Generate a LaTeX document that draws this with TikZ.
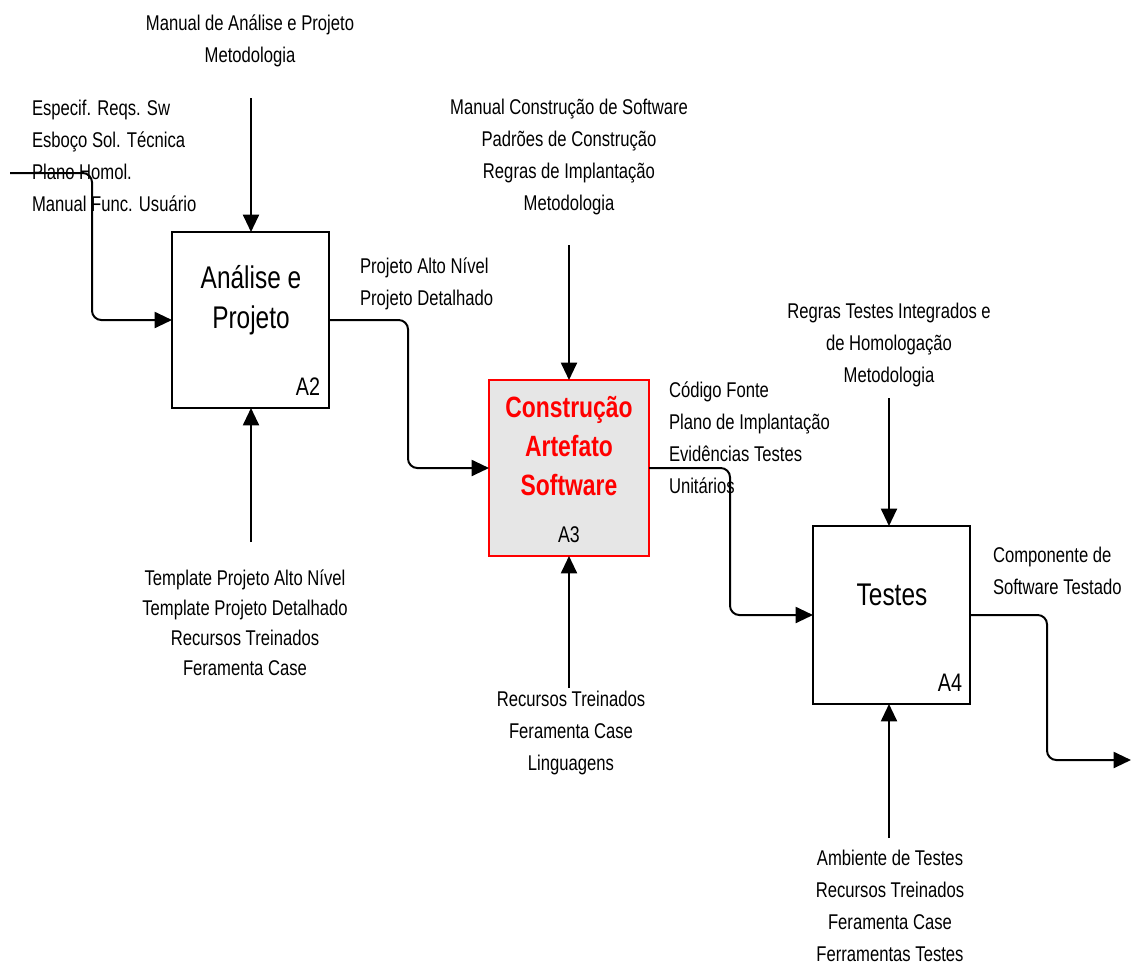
\documentclass[tikz,border=0pt]{standalone}
\usepackage{fontspec}
\setmainfont{Liberation Sans}[FakeStretch=0.78]
\usetikzlibrary{arrows.meta}
\definecolor{boxgray}{HTML}{E6E6E6}
\definecolor{boxred}{HTML}{FF0000}
\begin{document}
\begin{tikzpicture}[x=0.75pt,y=-0.75pt,
  every node/.style={inner sep=0pt, outer sep=0pt},
  lbl/.style={font=\fontsize{16}{24}\selectfont, align=center},
  lbll/.style={font=\fontsize{16}{24}\selectfont, align=left, anchor=west},
  big/.style={font=\fontsize{23.5}{30}\selectfont, align=center},
  ref/.style={font=\fontsize{19}{22}\selectfont},
  actbox/.style={draw, line width=1.5pt, anchor=north west},
  redbox/.style={draw=boxred, fill=boxgray, line width=1.5pt, anchor=north west},
  flow/.style={line width=1.5pt, rounded corners=7pt, -{Triangle[length=13pt,width=12pt]}}
]
\useasboundingbox (0,0) rectangle (1131,967);

% boxes
\node[actbox, minimum width=117.75pt, minimum height=132pt] (a2) at (172,232) {};
\node[redbox, minimum width=120pt, minimum height=132pt] (a3) at (489,380) {};
\node[actbox, minimum width=117.75pt, minimum height=133.5pt] (a4) at (813,526) {};

% box texts
\node[big] (t2) at (251,300) {Análise e\\Projeto};
\node[ref, anchor=east] (r2) at (320,387) {A2};
\node[font=\bfseries\fontsize{22}{29}\selectfont, text=boxred, align=center] (t3) at (569,446) {Construção\\Artefato\\Software};
\node[font=\fontsize{17}{20}\selectfont] (r3) at (569,535) {A3};
\node[big] (t4) at (892,595) {Testes};
\node[ref, anchor=east] (r4) at (962,683) {A4};

% labels
\node[lbl] (l1) at (250,41) {Manual de Análise e Projeto\\Metodologia};
\node[lbll] (l2) at (32,156) {Especif. Reqs. Sw\\Esboço Sol. Técnica\\Plano Homol.\\Manual Func. Usuário};
\node[lbll] (l3) at (360,284) {Projeto Alto Nível\\Projeto Detalhado};
\node[lbl] (l4) at (569,157) {Manual Construção de Software\\Padrões de Construção\\Regras de Implantação\\Metodologia};
\node[lbll] (l5) at (669,438) {Código Fonte\\Plano de Implantação\\Evidências Testes\\Unitários};
\node[lbl] (l6) at (889,345) {Regras Testes Integrados e\\de Homologação\\Metodologia};
\node[lbll] (l7) at (993,571) {Componente de\\Software Testado};
\node[lbl, font=\fontsize{16}{22.5}\selectfont] (l8) at (245,623) {Template Projeto Alto Nível\\Template Projeto Detalhado\\Recursos Treinados\\Feramenta Case};
\node[lbl] (l9) at (571,733) {Recursos Treinados\\Feramenta Case\\Linguagens};
\node[lbl] (l10) at (890,906) {Ambiente de Testes\\Recursos Treinados\\Feramenta Case\\Ferramentas Testes};

% connectors
\coordinate (in2) at (10,173);
\coordinate (c2) at (251,98);
\coordinate (m2) at (251,542);
\coordinate (c3) at (569,245);
\coordinate (m3) at (569,688);
\coordinate (c4) at (889,398);
\coordinate (m4) at (889,838);
\coordinate (out4) at (1131,760);

\draw[flow] (in2) -- (92,173) |- (a2.west);
\draw[flow] (c2) -- (c2 |- a2.north);
\draw[flow] (m2) -- (m2 |- a2.south);
\draw[flow] (a2.east) -- (408,320) |- (a3.west);
\draw[flow] (c3) -- (c3 |- a3.north);
\draw[flow] (m3) -- (m3 |- a3.south);
\draw[flow] (a3.east) -- (730,468) |- (a4.west);
\draw[flow] (c4) -- (c4 |- a4.north);
\draw[flow] (m4) -- (m4 |- a4.south);
\draw[flow] (a4.east) -- (1047,615) |- (out4);
\end{tikzpicture}
\end{document}
